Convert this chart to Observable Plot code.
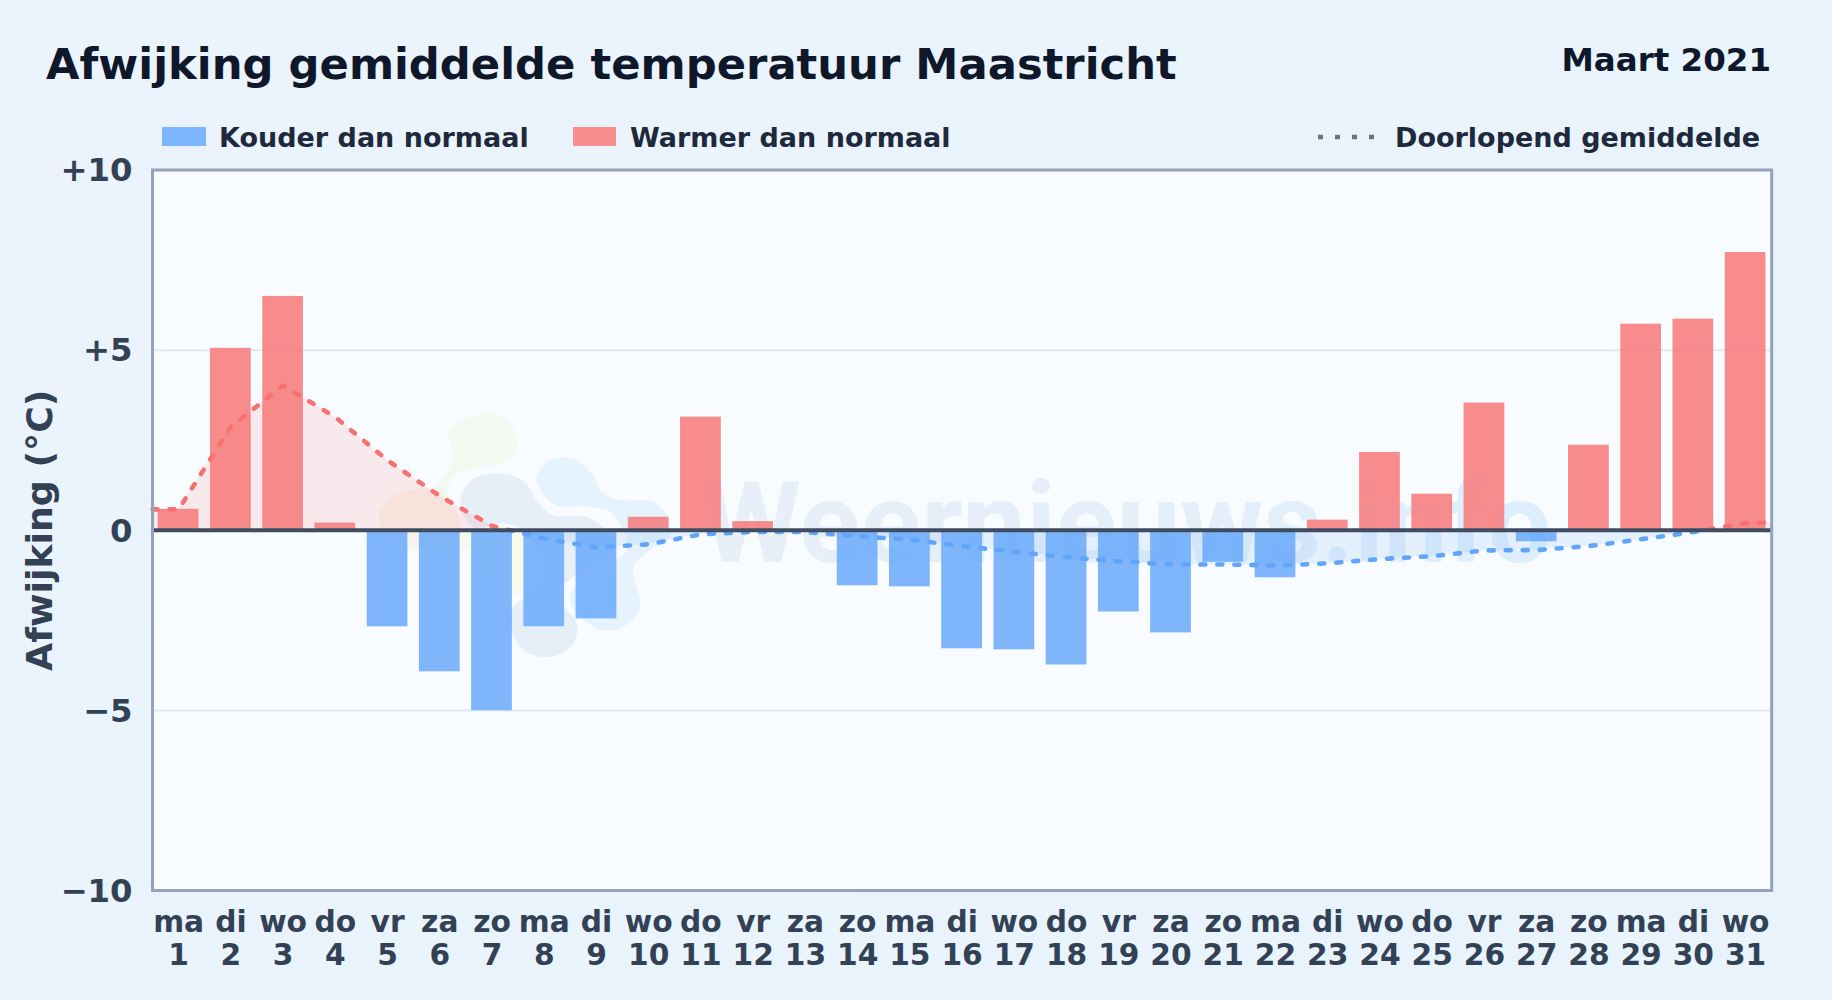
<!DOCTYPE html>
<html lang="nl">
<head>
<meta charset="utf-8">
<title>Afwijking gemiddelde temperatuur Maastricht</title>
<script src="https://cdn.jsdelivr.net/npm/d3@7"></script>
<script src="https://cdn.jsdelivr.net/npm/@observablehq/plot@0.6"></script>
<style>
  html, body { margin: 0; padding: 0; }
  body { width: 1832px; height: 1000px; position: relative; overflow: hidden;
    background: linear-gradient(135deg, #ebf4fc 0%, #e8f3fc 100%);
    font-family: "DejaVu Sans", sans-serif; font-weight: 700; }
  .abs { position: absolute; white-space: nowrap; line-height: 1; }
  #title { left: 46px; top: 43px; font-size: 43.3px; color: #0f172a; }
  #period { right: 61px; top: 44px; font-size: 32.5px; color: #0f172a; }
  .lg { top: 124px; font-size: 27px; color: #1e293b; }
  .sw { position: absolute; top: 127px; height: 19px; }
  #chart { position: absolute; left: 0; top: 150px; }
  #chart svg { display: block; }
  #dots { position: absolute; left: 1318px; top: 134px; }
</style>
</head>
<body>
<div id="title" class="abs">Afwijking gemiddelde temperatuur Maastricht</div>
<div id="period" class="abs">Maart 2021</div>
<div class="sw" style="left:162px;width:44px;background:#7eb6fb"></div>
<div class="abs lg" style="left:219px">Kouder dan normaal</div>
<div class="sw" style="left:573px;width:43px;background:#f88e8e"></div>
<div class="abs lg" style="left:630px">Warmer dan normaal</div>
<svg id="dots" width="56" height="6"><line x1="0" x2="56" y1="3" y2="3" stroke="#64748b" stroke-width="4.5" stroke-dasharray="5 12"/></svg>
<div class="abs lg" style="left:1395px">Doorlopend gemiddelde</div>
<div id="chart"></div>
<script>
const weekdays = ["ma","di","wo","do","vr","za","zo","ma","di","wo","do","vr","za","zo","ma","di","wo","do","vr","za","zo","ma","di","wo","do","vr","za","zo","ma","di","wo"];
const days = d3.range(1, 32);
const anomaly = [0.58,5.05,6.49,0.2,-2.68,-3.93,-5.01,-2.68,-2.46,0.36,3.14,0.24,0,-1.54,-1.57,-3.29,-3.32,-3.74,-2.27,-2.85,-0.89,-1.32,0.28,2.16,1.0,3.53,-0.32,2.36,5.72,5.86,7.71];
const runningMean = [0.58,2.87,4.02,3.14,1.94,0.95,0.12,-0.23,-0.48,-0.39,-0.11,-0.05,-0.05,-0.17,-0.26,-0.44,-0.6,-0.75,-0.86,-0.95,-0.95,-0.98,-0.92,-0.8,-0.72,-0.56,-0.55,-0.44,-0.25,-0.05,0.2];
const yTicks = [-10,-5,0,5,10];
const yTickLabels = ["\u221210","\u22125","0","+5","+10"];
const meanEdgeStart = 0.58, meanEdgeEnd = 0.22;

const bars = days.map((day, i) => ({day, value: anomaly[i]}));
const mean = [{day: 0.5, value: meanEdgeStart}, ...days.map((day, i) => ({day, value: runningMean[i]})), {day: 31.5, value: meanEdgeEnd}];

// watermark logo blobs, as [day, deviation]
const blobGreen = [[6.164,2.68],[6.515,3.1],[7.026,3.24],[7.377,2.91],[7.485,2.31],[7.313,1.94],[6.707,1.71],[6.29,1.53],[6.164,1.2],[6.388,0.185],[6.61,-0.46],[5.398,-0.46],[5.494,0.277],[5.909,1.16],[6.164,1.665],[6.26,2.13]];
const blobTan = [[4.843,0.46],[5.079,0.925],[5.622,1.156],[6.068,1.0],[6.356,0.37],[6.388,-0.185],[5.558,-0.46],[4.95,-0.09]];
const blobYellow = [[6.451,-0.05],[7.6,-0.05],[7.6,-1.665],[7.28,-1.76],[6.9,-1.11]];
const blobGrey = [[6.42,1.0],[6.643,1.43],[7.217,1.57],[7.632,1.34],[7.855,0.83],[8.174,0.42],[8.81,0.37],[9.195,0],[9.387,-0.46],[9.0,-0.83],[8.557,-1.3],[8.238,-1.76],[8.62,-2.59],[8.557,-3.15],[8.11,-3.515],[7.6,-3.33],[7.377,-2.775],[7.41,-2.13],[7.855,-1.665],[8.047,-1.02],[7.66,-0.09],[7.28,0.185],[6.643,0.09],[6.42,0.555]];
const blobBlue = [[7.855,1.48],[8.11,1.94],[8.557,1.99],[8.908,1.57],[9.13,1.02],[9.515,0.83],[10.09,0.79],[10.376,0.32],[10.408,-0.185],[10.025,-0.555],[9.706,-1.02],[9.833,-2.13],[9.514,-2.68],[9.13,-2.775],[8.685,-2.405],[8.493,-1.94],[8.62,-1.48],[9.13,-1.02],[9.578,-0.555],[9.514,0],[9.26,0.51],[8.81,0.65],[8.238,0.69],[7.92,1.11]];
const blob = (pts, fill) => Plot.line(pts, {x: d => d[0], y: d => d[1], curve: "catmull-rom-closed", fill, stroke: "none"});

function gradients(index, scales, values, dims) {
  const off = scales.y(0) / dims.height;
  const defs = d3.create("svg:defs");
  const split = (id, above, below, op) => {
    const g = defs.append("linearGradient").attr("id", id).attr("gradientUnits", "userSpaceOnUse")
      .attr("x1", 0).attr("x2", 0).attr("y1", 0).attr("y2", dims.height);
    g.append("stop").attr("offset", off).attr("stop-color", above).attr("stop-opacity", op);
    g.append("stop").attr("offset", off).attr("stop-color", below).attr("stop-opacity", op);
  };
  split("meanStroke", "#f87171", "#60a5fa", 1);
  split("meanFill", "#f87171", "#60a5fa", 0.13);
  const w = defs.append("linearGradient").attr("id", "wmFill");
  w.append("stop").attr("offset", 0).attr("stop-color", "#e7eff7");
  w.append("stop").attr("offset", 0.55).attr("stop-color", "#e5effa");
  w.append("stop").attr("offset", 1).attr("stop-color", "#ddeefd");
  return defs.node();
}

const plot = Plot.plot({
  width: 1832, height: 850,
  marginLeft: 152, marginRight: 60.8, marginTop: 19.5, marginBottom: 110,
  style: {fontFamily: "'DejaVu Sans', sans-serif", fontWeight: 700, background: "transparent", overflow: "visible"},
  x: {type: "linear", domain: [0.5, 31.5]},
  y: {type: "linear", domain: [-10, 10]},
  marks: [
    gradients,
    Plot.frame({fill: "#f8fbff", stroke: "none"}),
    Plot.ruleY([-5, 5], {stroke: "#e2e8f0", strokeWidth: 2}),
    blob(blobGreen, "#f3f9f0"),
    blob(blobYellow, "#f6fbee"),
    blob(blobTan, "#f8f3ec"),
    blob(blobGrey, "#e6eff8"),
    blob(blobBlue, "#e6f3fd"),
    Plot.text(["Weernieuws.info"], {x: 11.02, y: -0.87, text: d => d, textAnchor: "start", lineAnchor: "bottom", fontFamily: "Roboto", fontSize: 113, fontWeight: 700, fill: "url(#wmFill)"}),
    Plot.areaY(mean, {x: "day", y1: 0, y2: "value", curve: "linear", fill: "url(#meanFill)"}),
    Plot.rectY(bars.filter(d => d.value < 0), {x1: d => d.day - 0.39, x2: d => d.day + 0.39, y1: 0, y2: "value", fill: "#60a5fa", fillOpacity: 0.8}),
    Plot.rectY(bars.filter(d => d.value >= 0), {x1: d => d.day - 0.39, x2: d => d.day + 0.39, y1: 0, y2: "value", fill: "#f87171", fillOpacity: 0.8}),
    Plot.line(mean, {x: "day", y: "value", curve: "linear", stroke: "url(#meanStroke)", strokeWidth: 4.6, strokeDasharray: "5 12", strokeLinecap: "round"}),
    Plot.ruleY([0], {stroke: "#3f4c62", strokeWidth: 4.2}),
    Plot.frame({stroke: "#94a3b8", strokeWidth: 3, fill: "none"}),
    Plot.axisY({ticks: yTicks, tickSize: 0, tickPadding: 20, dy: 1, tickFormat: d => yTickLabels[yTicks.indexOf(d)], fontSize: 32.3, fill: "#334155", label: null}),
    Plot.text(["Afwijking (\u00b0C)"], {frameAnchor: "left", dx: -101, rotate: -90, textAnchor: "middle", lineAnchor: "bottom", fontSize: 36.3, fill: "#334155"}),
    Plot.axisX({ticks: days, tickSize: 0, tickPadding: 17, tickFormat: d => `${weekdays[d - 1]}\n${d}`, fontSize: 29.7, lineHeight: 1.14, fill: "#334155", label: null})
  ]
});
document.getElementById("chart").appendChild(plot);
</script>
</body>
</html>
